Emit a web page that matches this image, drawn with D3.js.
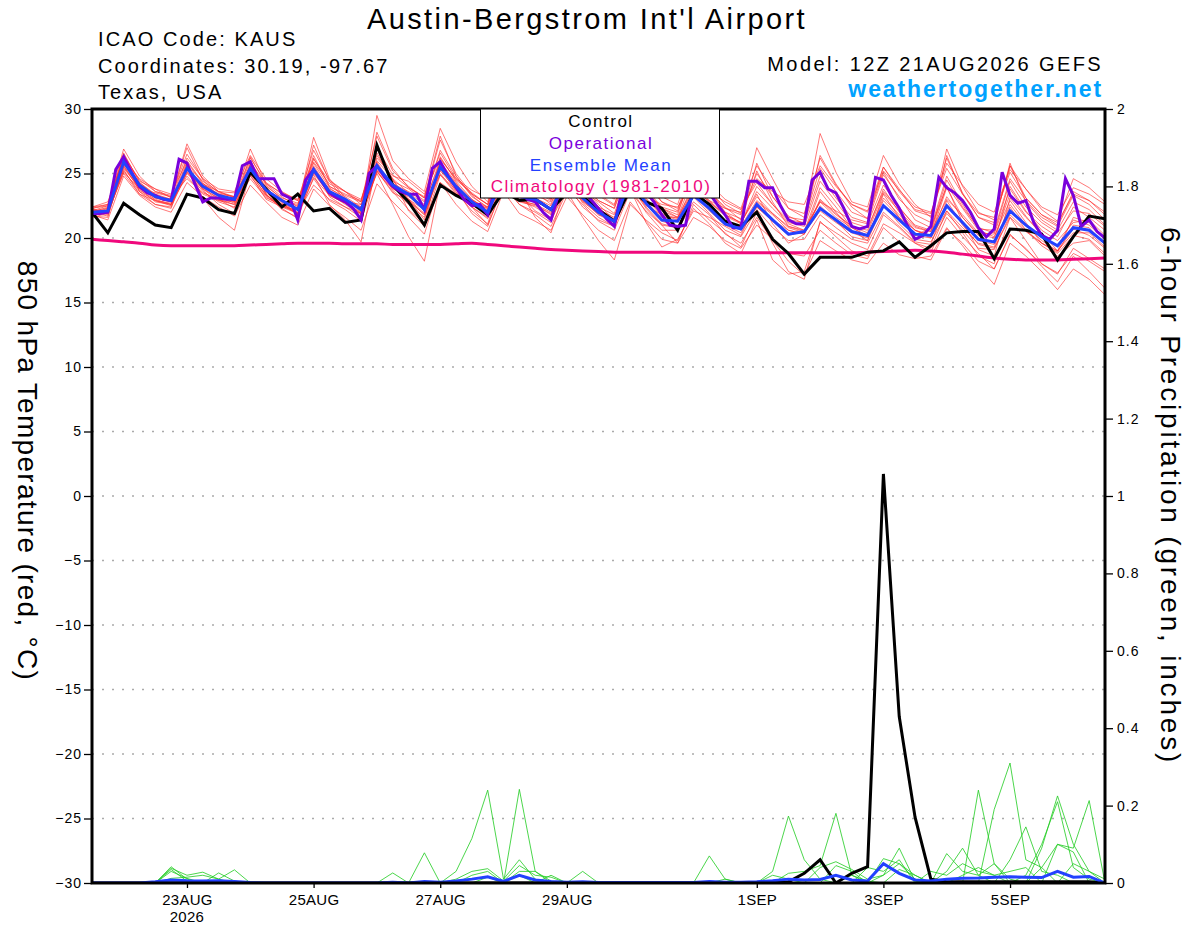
<!DOCTYPE html>
<html>
<head>
<meta charset="utf-8">
<script src="https://cdn.jsdelivr.net/npm/d3@7"></script>
<style>
body { margin: 0; background: #fff; }
svg { display: block; font-family: "Liberation Sans", Arial, Helvetica, sans-serif; }
</style>
</head>
<body>
<svg class="svg-canvas" width="1200" height="927"></svg>
<script>
// 850 hPa temperature (C), 6-hourly from 12Z 21AUG2026
var control = [22.0,20.4, 22.7,21.8,21.0,20.8, 23.4,23.1,22.2,21.9, 25.1,23.8,22.4,23.4, 22.1,22.3,21.2,21.4, 27.2,24.1,22.8,21.0, 24.1,23.3,22.7,21.8, 23.6,22.9,23.0,22.2, 23.5,23.2,22.2,21.3, 23.8,22.8,22.3,20.6, 23.5,22.6,21.3,20.9, 22.0,19.9,18.8,17.2, 18.5,18.5,18.5,18.9, 19.0,19.7,18.5,19.4, 20.4,20.5,20.5,18.4, 20.7,20.6,20.3,18.3, 20.1,21.7,21.5];
var ensMean = [22.0,22.1, 25.9,24.1,23.2,22.9, 25.4,24.0,23.3,23.0, 25.4,23.7,22.9,22.2, 25.3,23.6,23.0,22.2, 25.6,24.1,23.4,22.2, 25.5,24.0,22.8,22.0, 24.8,23.2,23.0,22.2, 24.6,23.1,22.0,21.3, 24.5,22.7,21.4,21.3, 23.3,22.3,21.1,20.7, 22.6,21.4,20.3,20.5, 22.3,21.4,20.5,20.2, 22.5,21.4,20.3,20.2, 22.5,21.2,19.9,19.7, 22.1,21.0,20.1,19.4, 20.8,20.6,19.6];
var climatology = [19.9,19.8, 19.7,19.6,19.45,19.4, 19.4,19.4,19.4,19.4, 19.45,19.5,19.55,19.6, 19.6,19.6,19.55,19.55, 19.55,19.5,19.5,19.5, 19.5,19.55,19.6,19.5, 19.4,19.3,19.2,19.1, 19.05,19.0,18.95,18.9, 18.9,18.9,18.9,18.85, 18.85,18.85,18.85,18.85, 18.85,18.85,18.85,18.85, 18.85,18.85,18.85,18.9, 18.95,19.0,19.05,19.0, 18.9,18.75,18.6,18.45, 18.35,18.3,18.3,18.3, 18.35,18.4,18.45];
// operational run is 3-hourly
var operational = [21.9,21.9,22.0,25.3,26.3,25.1,24.0,23.5, 23.3,23.0,22.9,26.1,25.8,24.2,22.8,23.1, 23.1,23.0,23.0,25.6,25.9,24.6,24.6,24.6, 23.4,23.1,21.4,24.5,25.3,24.4,23.5,23.1, 22.8,22.3,21.4,25.0,25.6,24.7,24.0,23.6, 23.4,23.4,22.2,25.4,25.9,24.8,23.9,23.0, 22.5,22.6,21.8,24.0,25.0,24.5,23.8,23.0, 22.8,22.0,21.4,23.5,24.8,24.5,23.8,23.0, 22.3,21.5,20.9,23.8,25.0,24.5,23.6,22.8, 21.8,21.0,20.9,21.0,24.0,24.5,23.5,22.6, 21.8,20.8,20.8,24.4,24.4,23.9,23.9,22.5, 21.4,21.1,21.1,24.5,25.1,23.8,23.5,22.3, 20.9,20.7,20.9,24.7,24.5,23.3,22.3,21.0, 19.9,20.2,20.9,24.7,23.9,23.5,22.9,22.0, 20.8,20.1,20.7,25.1,23.3,22.7,22.9,21.2, 20.2,19.9,20.6,24.6,23.3,20.9,21.4,20.5, 20.0];
var tempMembers = [
  [22.3,22.6, 26.9,24.8,23.6,23.3, 26.5,24.6,23.5,23.2, 26.2,24.3,23.4,22.9, 26.8,24.5,23.6,22.8, 27.9,25.2,24.0,23.1, 27.6,25.0,23.4,22.6, 26.5,24.2,23.6,22.9, 26.0,24.1,22.9,22.3, 26.2,23.8,22.4,22.0, 25.1,23.5,22.3,21.8, 25.0,23.2,21.6,21.4, 25.4,23.6,22.0,21.5, 25.5,23.8,22.1,21.7, 26.2,23.5,21.6,21.2, 25.6,23.1,21.8,21.0, 23.6,22.9,22.0],
  [21.8,21.4, 24.8,23.3,22.4,22.0, 24.3,23.2,22.4,21.7, 24.1,22.8,21.6,21.0, 23.8,22.5,21.6,20.6, 24.2,22.8,21.6,20.3, 24.3,22.6,21.3,20.5, 23.6,21.9,21.3,20.6, 23.2,21.8,20.6,19.8, 22.8,21.3,19.9,19.6, 21.6,20.9,19.8,19.2, 21.0,19.9,18.8,18.6, 20.6,19.6,18.7,18.4, 20.8,19.7,18.6,18.3, 20.7,19.6,18.2,17.6, 20.3,19.1,18.0,17.3, 18.8,18.2,17.4],
  [22.1,22.3, 26.5,24.4,23.8,23.1, 27.3,24.8,23.6,23.1, 26.9,24.2,23.2,22.4, 27.8,24.6,23.1,22.0, 29.5,26.0,24.6,23.6, 28.5,25.9,24.0,22.8, 27.2,24.9,24.2,23.0, 26.8,24.5,23.3,22.5, 27.0,24.6,22.8,22.1, 26.3,24.1,22.6,21.9, 27.0,24.6,22.3,21.6, 28.1,25.1,22.8,22.4, 26.4,24.2,22.6,21.6, 26.9,24.0,22.0,21.4, 25.6,23.8,22.2,21.3, 24.6,23.9,22.8],
  [22.0,21.9, 25.6,23.7,23.0,22.6, 25.0,23.8,22.9,22.6, 25.7,23.4,22.3,21.5, 25.5,23.2,22.4,21.6, 25.2,23.5,22.9,21.8, 25.0,23.5,22.4,21.5, 24.4,22.9,22.6,21.8, 24.9,22.7,21.6,20.9, 24.1,22.3,21.0,20.8, 23.2,21.9,20.6,20.1, 22.2,20.8,19.8,19.9, 21.8,20.8,19.9,19.6, 22.0,20.9,19.7,19.5, 22.9,21.0,19.5,19.2, 21.6,20.5,19.6,18.8, 20.2,19.9,18.8],
  [22.4,22.8, 26.2,23.6,22.6,22.3, 25.8,23.1,21.6,20.6, 25.1,23.9,22.8,21.9, 24.9,22.6,21.4,19.7, 26.0,24.6,22.1,20.9, 26.3,24.4,23.0,22.1, 25.6,23.8,21.6,20.4, 24.3,23.6,22.8,21.9, 25.2,23.1,21.7,20.6, 24.0,22.8,21.8,21.2, 23.4,21.1,19.6,20.3, 23.6,22.0,20.6,19.8, 23.4,21.6,20.2,20.8, 24.0,21.2,19.1,18.6, 23.1,21.6,20.4,19.0, 21.6,21.2,20.0],
  [21.7,21.6, 25.8,24.2,23.3,23.0, 25.2,24.2,23.6,23.5, 25.3,23.6,22.9,22.6, 26.4,24.0,23.4,22.9, 26.9,24.5,23.0,21.4, 25.9,24.3,22.4,21.0, 24.0,23.0,23.4,23.1, 25.8,23.9,22.4,21.2, 24.6,23.2,22.6,22.4, 24.6,23.3,22.0,21.1, 23.6,22.3,21.1,20.6, 22.8,22.1,21.4,21.1, 24.1,22.4,20.9,20.5, 23.0,21.8,20.4,20.3, 23.8,22.0,20.9,20.1, 22.4,21.6,20.6],
  [22.2,22.0, 25.1,23.8,23.5,23.2, 24.6,23.5,23.0,22.6, 24.6,23.1,22.6,22.0, 24.1,23.0,22.4,21.9, 25.0,22.6,20.1,18.2, 24.3,23.4,22.9,21.8, 25.1,23.4,22.1,21.4, 23.8,22.6,21.3,20.6, 23.6,22.1,21.0,19.6, 22.6,21.4,20.4,19.3, 22.0,19.6,17.4,16.8, 21.3,20.1,19.0,18.6, 21.1,20.4,19.6,18.9, 21.6,20.1,18.8,17.6, 20.2,19.2,17.8,16.6, 18.6,17.4,16.1],
  [21.9,22.2, 26.0,24.6,23.8,23.4, 26.0,24.3,23.0,22.3, 25.8,24.2,23.5,23.0, 25.9,24.2,23.6,23.0, 26.6,24.4,23.8,22.9, 26.8,24.8,23.3,22.3, 25.6,23.6,22.8,22.3, 25.1,23.6,22.1,21.0, 25.3,23.4,22.1,21.6, 23.9,22.8,21.7,21.1, 24.0,22.6,21.2,20.9, 24.4,22.8,21.2,20.8, 23.6,22.3,21.0,20.6, 24.5,22.4,20.8,20.4, 24.4,22.4,21.2,20.4, 22.1,21.9,20.9],
  [22.0,22.4, 25.4,23.9,23.1,22.8, 25.6,24.4,23.6,23.2, 25.1,23.3,22.6,22.3, 25.0,23.4,22.6,21.8, 25.4,24.2,23.6,22.8, 25.8,24.1,22.6,21.8, 24.6,23.5,23.3,22.8, 24.4,23.3,22.4,21.8, 24.2,22.8,21.6,21.6, 23.5,22.9,22.3,22.0, 24.6,23.6,22.8,22.6, 25.6,24.0,22.6,22.1, 25.5,23.6,22.2,21.9, 25.8,24.1,22.6,22.0, 25.3,23.8,22.4,21.8, 23.9,23.4,22.6],
  [22.3,21.8, 25.3,23.4,22.6,22.4, 25.1,23.9,23.4,23.2, 25.6,24.0,23.1,22.7, 25.2,23.3,22.7,21.9, 25.1,23.8,23.2,22.3, 25.4,23.6,22.1,21.1, 24.9,22.8,22.5,21.9, 24.2,22.4,21.4,20.9, 23.9,22.0,20.6,20.6, 22.8,21.8,20.3,19.6, 21.6,19.8,18.2,17.1, 19.8,19.0,18.3,18.0, 19.6,18.7,18.4,18.6, 20.8,19.4,17.8,16.4, 19.6,18.6,17.4,16.0, 17.6,16.8,15.6],
  [22.1,22.5, 26.3,24.1,22.9,22.5, 25.7,23.7,22.6,21.9, 25.2,23.6,22.9,22.5, 25.8,23.9,23.0,22.2, 26.2,24.8,24.4,23.4, 26.2,24.5,23.5,22.6, 25.0,23.9,23.7,23.0, 25.5,23.9,22.9,22.3, 25.4,23.6,22.3,21.6, 24.8,23.6,22.4,21.4, 25.2,22.8,20.9,20.5, 23.9,22.4,20.8,20.1, 23.1,21.8,20.6,20.2, 23.9,21.6,20.2,19.6, 24.0,22.1,20.6,19.8, 21.2,21.4,20.2],
  [21.6,21.9, 25.7,24.3,23.3,22.8, 25.3,24.1,23.4,23.0, 25.5,23.8,22.7,21.8, 25.3,23.8,23.2,22.4, 25.8,23.7,22.6,21.6, 25.3,24.0,22.8,22.3, 24.4,22.9,22.4,21.6, 24.1,22.8,21.9,21.5, 24.5,22.6,21.3,20.9, 23.2,22.4,21.3,20.6, 22.4,21.3,20.2,20.5, 22.8,21.6,20.8,20.2, 22.9,21.6,20.6,20.0, 22.6,21.3,19.8,19.5, 22.6,21.0,19.8,19.0, 20.4,20.4,19.3],
  [22.2,22.0, 26.4,24.5,23.6,23.2, 27.0,24.5,23.2,22.7, 26.3,24.1,23.0,22.3, 27.2,24.4,22.9,22.3, 28.2,25.4,23.9,23.2, 27.9,24.8,23.2,22.4, 26.8,24.3,23.6,22.6, 26.2,24.0,22.6,21.4, 25.9,23.7,22.3,21.8, 25.6,23.8,22.0,21.5, 25.8,23.2,21.7,21.1, 26.4,24.2,22.4,21.5, 25.1,23.0,21.8,21.2, 26.4,23.4,21.6,21.0, 25.8,22.8,21.4,20.6, 22.8,22.2,21.0],
  [21.9,22.3, 25.2,23.6,22.9,22.7, 24.8,23.4,22.9,22.8, 24.9,23.0,22.4,21.9, 25.1,23.5,22.8,22.6, 25.3,23.9,23.3,22.4, 24.9,23.7,22.9,22.4, 24.5,23.3,22.8,22.3, 24.6,23.0,21.8,21.4, 24.1,22.5,21.8,21.4, 23.8,22.2,21.0,20.9, 22.9,21.9,20.8,20.4, 22.1,21.2,20.4,20.0, 22.6,21.1,19.9,19.7, 21.9,20.6,19.2,19.1, 21.8,20.6,19.4,18.6, 19.6,19.8,18.6],
  [22.0,21.7, 25.5,23.9,23.1,22.8, 25.1,23.6,22.8,22.4, 25.3,23.5,22.6,21.9, 24.6,22.9,22.2,21.3, 25.2,23.6,22.2,21.1, 24.9,23.4,22.4,21.6, 24.0,22.6,21.8,20.9, 23.6,21.6,19.8,18.3, 22.6,21.4,20.4,19.8, 22.3,21.1,19.6,18.8, 21.4,18.3,17.2,17.4, 21.2,20.4,19.6,19.1, 21.8,20.8,19.6,19.2, 22.1,20.4,18.6,18.0, 21.6,19.8,18.0,17.2, 19.2,18.4,17.6],
  [22.3,22.5, 26.6,24.3,23.4,23.0, 26.2,24.6,23.8,23.6, 26.4,24.6,23.6,22.9, 26.1,24.4,23.6,22.6, 26.4,24.6,23.5,22.6, 26.1,24.6,23.7,23.1, 25.8,24.4,24.1,23.6, 26.0,24.6,23.4,22.6, 25.8,24.1,22.8,22.3, 24.6,23.6,22.8,22.2, 24.3,22.6,21.4,21.2, 24.8,23.1,21.6,21.2, 24.9,23.2,21.4,20.8, 24.8,22.6,20.7,20.6, 24.6,22.9,21.6,20.9, 23.3,22.6,21.4],
  [21.8,22.1, 25.9,23.8,22.8,22.6, 25.5,23.9,23.0,22.9, 25.6,23.4,22.2,21.6, 24.7,23.3,22.7,21.9, 25.5,23.9,23.0,21.9, 25.6,23.8,21.9,20.9, 24.2,22.6,22.0,21.2, 24.5,22.9,22.0,21.0, 23.8,21.2,19.3,19.9, 22.1,21.6,20.9,20.2, 22.8,21.8,20.6,20.3, 23.0,21.9,20.9,20.4, 23.5,22.1,20.8,20.5, 24.1,22.3,20.6,20.1, 22.9,21.2,19.6,18.9, 21.0,20.8,19.5],
  [22.1,22.0, 25.0,23.4,22.9,22.6, 25.4,24.1,23.3,22.9, 24.8,23.2,22.4,22.2, 25.6,23.7,22.9,22.4, 25.9,24.0,22.9,21.8, 25.8,24.2,23.0,22.2, 25.3,23.6,23.1,22.5, 24.9,23.3,22.2,21.6, 24.9,23.0,21.9,21.5, 24.2,22.9,21.8,21.2, 23.2,21.9,20.9,20.6, 22.9,21.8,20.9,20.6, 23.8,22.0,20.6,20.2, 23.2,21.6,20.3,20.0, 23.4,21.7,20.2,19.4, 21.4,21.0,19.9],
  [22.4,22.6, 26.1,24.2,23.3,22.9, 25.9,24.2,23.4,22.8, 26.0,23.8,22.8,22.3, 26.2,24.0,23.3,22.8, 27.0,24.9,23.9,23.1, 26.6,24.6,23.4,22.6, 27.6,25.1,24.4,23.6, 27.8,25.3,23.8,23.0, 27.3,24.8,23.2,22.6, 26.1,24.2,23.0,22.3, 25.6,23.8,22.3,21.9, 26.2,24.1,22.6,22.0, 25.2,23.7,22.4,22.0, 25.4,23.4,21.9,21.6, 25.1,23.1,21.8,21.2, 23.4,22.9,21.8],
  [21.8,22.2, 25.6,24.0,23.2,22.9, 25.3,23.8,23.1,23.1, 25.0,23.3,22.5,21.9, 25.4,23.5,22.7,22.0, 25.6,23.9,23.0,22.2, 25.2,23.8,22.7,21.8, 24.6,22.9,22.6,22.0, 24.3,22.9,21.8,21.2, 24.3,22.4,21.1,20.8, 23.4,22.1,21.0,20.4, 22.4,21.4,20.6,20.3, 22.5,21.3,20.1,19.8, 22.6,21.4,20.2,20.0, 22.1,20.8,19.6,19.3, 22.4,20.6,19.6,19.0, 20.7,20.2,19.2]
];

// 6-hour precipitation (inches)
var controlPrecip = [0,0,0,0,0, 0,0,0,0,0, 0,0,0,0,0, 0,0,0,0,0, 0,0,0,0,0, 0,0,0,0,0, 0,0,0,0,0, 0,0,0,0,0, 0,0,0,0,.003, .025,.06,0,.025,.042, 1.057,.43,.17,.01,.003, .003,.003,.003,.003,.003, .003,.003,.003,.003,0];
var meanPrecip = [0,0,0,0,.003, .008,.006,.005,.006,.004, .001,0,0,0,0, 0,0,0,0,.002, 0,.004,.002,.005,.01, .016,.004,.02,.008,.004, .002,.003,.001,.001,.001, .001,.001,.001,.001,.004, .002,.002,.003,.006,.01, .008,.009,.02,.008,.005, .05,.025,.008,.005,.01, .012,.013,.015,.016,.015, .014,.03,.015,.017,0];
var precipMembers = [
  [0,0,0,0,0, .042,.01,0,0,0, 0,0,0,0,0, 0,0,0,0,0, 0,0,0,0,0, 0,0,0,0,0, 0,0,0,0,0, 0,0,0,0,0, 0,0,0,0,0, 0,0,0,0,0, 0,0,0,0,.03, .09,.02,.05,0,0, 0,0,0,0,0],
  [0,0,0,0,0, .038,.02,.028,.01,0, 0,0,0,0,0, 0,0,0,0,0, 0,0,0,0,0, 0,0,0,0,0, 0,0,0,0,0, 0,0,0,0,0, 0,0,0,0,0, 0,0,0,0,0, 0,0,0,0,0, 0,.24,.05,.01,0, 0,0,0,0,0],
  [0,0,0,0,0, .03,.012,0,.026,.005, 0,0,0,0,0, 0,0,0,0,0, 0,0,0,0,0, 0,0,0,0,0, 0,0,0,0,0, 0,0,0,0,0, 0,0,0,0,0, 0,0,0,0,0, 0,0,0,0,0, 0,0,.19,.31,.06, .04,0,0,0,0],
  [0,0,0,0,0, .012,.015,.02,.01,.034, 0,0,0,0,0, 0,0,0,0,0, 0,0,0,0,0, 0,0,0,0,0, 0,0,0,0,0, 0,0,0,0,0, 0,0,0,0,0, 0,0,0,0,0, 0,0,0,0,0, 0,0,0,.06,.145, .03,.02,0,0,0],
  [0,0,0,0,0, .035,.005,0,0,0, 0,0,0,0,0, 0,0,0,0,0, 0,0,0,0,0, 0,0,0,0,0, 0,0,0,0,0, 0,0,0,0,0, 0,0,0,0,0, 0,0,0,0,0, 0,0,0,0,0, 0,0,0,0,0, .09,.225,.1,.03,0],
  [0,0,0,0,0, 0,0,0,0,0, 0,0,0,0,0, 0,0,0,0,.026, 0,0,0,0,0, 0,0,0,0,0, 0,0,0,0,0, 0,0,0,0,0, 0,0,0,0,0, 0,0,0,0,0, 0,0,0,0,0, 0,0,0,0,.02, .1,.21,.04,.01,0],
  [0,0,0,0,0, 0,0,0,0,0, 0,0,0,0,0, 0,0,0,0,0, 0,.078,0,0,0, 0,0,0,0,0, 0,0,0,0,0, 0,0,0,0,0, 0,0,0,0,0, 0,0,0,0,0, 0,0,0,0,0, 0,0,0,0,0, 0,.1,.09,.213,0],
  [0,0,0,0,0, 0,0,0,0,0, 0,0,0,0,0, 0,0,0,0,0, 0,0,0,.03,.115, .24,.01,.06,.01,0, 0,0,0,0,0, 0,0,0,0,0, 0,0,0,0,0, 0,0,0,0,0, 0,0,0,0,.076, .03,.02,0,0,0, 0,0,0,0,0],
  [0,0,0,0,0, 0,0,0,0,0, 0,0,0,0,0, 0,0,0,0,0, 0,0,0,0,0, 0,0,.242,.03,0, 0,0,0,0,0, 0,0,0,0,0, 0,0,0,0,0, 0,0,0,0,0, 0,0,0,.03,.02, .05,.03,.02,0,0, 0,0,0,0,0],
  [0,0,0,0,0, 0,0,0,0,0, 0,0,0,0,0, 0,0,0,0,0, 0,0,0,.01,.03, .037,.005,.045,.02,.015, 0,0,0,0,0, 0,0,0,0,0, 0,0,0,0,0, 0,0,0,0,0, 0,0,0,0,0, 0,0,0,0,0, 0,0,.05,.03,.01],
  [0,0,0,0,0, 0,0,0,0,0, 0,0,0,0,0, 0,0,0,0,0, 0,0,0,0,.02, .03,0,.03,.03,.005, 0,.03,0,0,0, 0,0,0,0,0, 0,0,0,0,0, 0,0,0,0,0, .02,.05,.02,0,0, 0,0,0,0,0, 0,0,0,0,0],
  [0,0,0,0,0, 0,0,0,0,0, 0,0,0,0,0, 0,0,0,0,0, 0,0,0,0,0, .015,0,.02,0,.02, 0,0,0,0,0, 0,0,0,0,0, 0,0,0,.02,.01, 0,0,0,0,0, 0,0,0,0,0, 0,0,0,0,0, 0,0,0,0,0],
  [0,0,0,0,0, 0,0,0,0,0, 0,0,0,0,0, 0,0,0,0,0, 0,0,0,0,0, 0,0,0,0,0, 0,0,0,0,0, 0,0,0,0,.07, .01,0,0,0,0, 0,0,0,0,0, 0,0,0,0,0, .02,.04,.02,.03,.04, 0,0,0,0,0],
  [0,0,0,0,0, 0,0,0,0,0, 0,0,0,0,0, 0,0,0,0,0, 0,0,0,0,0, 0,0,0,0,0, 0,0,0,0,0, 0,0,0,0,0, .01,0,0,0,0, 0,0,0,0,0, 0,0,0,0,0, 0,0,0,0,0, .04,.1,.08,0,0],
  [0,0,0,0,0, 0,0,0,0,0, 0,0,0,0,0, 0,0,0,0,0, 0,0,0,0,0, 0,0,0,0,0, 0,0,0,0,0, 0,0,0,0,0, 0,0,0,.03,.173, .06,.01,0,0,0, 0,0,0,0,0, 0,0,0,0,0, 0,0,0,0,0],
  [0,0,0,0,0, 0,0,0,0,0, 0,0,0,0,0, 0,0,0,0,0, 0,0,0,0,0, 0,0,0,0,0, 0,0,0,0,0, 0,0,0,0,0, 0,0,0,0,.025, .03,.045,.18,.02,0, 0,0,0,0,0, 0,0,0,0,0, 0,0,0,0,0],
  [0,0,0,0,0, 0,0,0,0,0, 0,0,0,0,0, 0,0,0,0,0, 0,0,0,0,0, 0,0,0,0,0, 0,0,0,0,0, 0,0,0,0,0, 0,0,0,0,0, 0,.04,.055,.035,.01, .02,.09,.005,0,0, 0,0,0,0,0, 0,0,0,0,0],
  [0,0,0,0,0, 0,0,0,0,0, 0,0,0,0,0, 0,0,0,0,0, 0,0,0,0,0, 0,0,0,0,0, 0,0,0,0,0, 0,0,0,0,0, 0,0,0,0,0, 0,0,.045,.03,0, .063,.05,.01,0,0, 0,0,0,0,0, 0,0,0,0,0],
  [0,0,0,0,0, 0,0,0,0,0, 0,0,0,0,0, 0,0,0,0,0, 0,0,0,0,0, 0,0,0,0,0, 0,0,0,0,0, 0,0,0,0,0, 0,0,0,0,0, 0,0,0,.02,.005, 0,.035,.02,0,0, 0,0,0,0,0, 0,0,0,0,0],
  [0,0,0,0,0, 0,0,0,0,0, 0,0,0,0,0, 0,0,0,0,0, 0,0,0,0,0, 0,0,0,0,0, 0,0,0,0,0, 0,0,0,0,0, 0,0,0,0,0, 0,0,0,0,.04, .03,.06,0,0,0, 0,0,0,0,0, 0,0,0,0,0]
];

var tempTicks = [-30, -25, -20, -15, -10, -5, 0, 5, 10, 15, 20, 25, 30];
var precipTicks = [0, 0.2, 0.4, 0.6, 0.8, 1, 1.2, 1.4, 1.6, 1.8, 2];
var dateTicks = [Date.UTC(2026, 7, 23), Date.UTC(2026, 7, 25), Date.UTC(2026, 7, 27), Date.UTC(2026, 7, 29), Date.UTC(2026, 8, 1), Date.UTC(2026, 8, 3), Date.UTC(2026, 8, 5)];
var dateLabels = ["23AUG", "25AUG", "27AUG", "29AUG", "1SEP", "3SEP", "5SEP"];

var svg = d3.select(".svg-canvas");
var plotLeft = 92, plotRight = 1105, plotTop = 109, plotBottom = 883;
var font = "Liberation Sans, Arial, Helvetica, sans-serif";

var sixHours = 6 * 3600 * 1000;
var startTime = Date.UTC(2026, 7, 21, 12);
var times = control.map(function(d, i) { return new Date(startTime + i * sixHours); });
var opTimes = operational.map(function(d, i) { return new Date(startTime + i * sixHours / 2); });

var x = d3.scaleUtc().domain([times[0], times[times.length - 1]]).range([plotLeft, plotRight]);
var yTemp = d3.scaleLinear().domain([-30, 30]).range([plotBottom, plotTop]);
var yPrcp = d3.scaleLinear().domain([0, 2]).range([plotBottom, plotTop]);

svg.append("clipPath").attr("id", "plot-clip")
  .append("rect")
  .attr("x", plotLeft).attr("y", plotTop)
  .attr("width", plotRight - plotLeft).attr("height", plotBottom - plotTop);

// dotted grid
svg.append("g").selectAll("line")
  .data(tempTicks.filter(function(d) { return d > -30 && d < 30; })).enter()
  .append("line")
  .attr("x1", plotLeft).attr("x2", plotRight)
  .attr("y1", function(d) { return yTemp(d); })
  .attr("y2", function(d) { return yTemp(d); })
  .attr("stroke", "#aaa")
  .attr("stroke-width", 1.5)
  .attr("stroke-dasharray", "2,8");

var plot = svg.append("g").attr("clip-path", "url(#plot-clip)");

var tempLine = d3.line()
  .x(function(d, i) { return x(times[i]); })
  .y(function(d) { return yTemp(d); });
var opLine = d3.line()
  .x(function(d, i) { return x(opTimes[i]); })
  .y(function(d) { return yTemp(d); });
var climLine = d3.line()
  .curve(d3.curveMonotoneX)
  .x(function(d, i) { return x(times[i]); })
  .y(function(d) { return yTemp(d); });
var precipLine = d3.line()
  .x(function(d, i) { return x(times[i]); })
  .y(function(d) { return yPrcp(d); });

plot.selectAll("path.member-t")
  .data(tempMembers).enter()
  .append("path")
  .attr("class", "member-t")
  .attr("d", tempLine)
  .attr("fill", "none")
  .attr("stroke", "#ff2a2a")
  .attr("stroke-opacity", 0.7)
  .attr("stroke-width", 0.9);

plot.selectAll("path.member-p")
  .data(precipMembers).enter()
  .append("path")
  .attr("class", "member-p")
  .attr("d", precipLine)
  .attr("fill", "none")
  .attr("stroke", "#22cc22")
  .attr("stroke-opacity", 0.9)
  .attr("stroke-width", 0.9);

plot.append("path").attr("d", climLine(climatology))
  .attr("fill", "none").attr("stroke", "#f0087c").attr("stroke-width", 3);

plot.append("path").attr("d", tempLine(control))
  .attr("fill", "none").attr("stroke", "#000").attr("stroke-width", 3);
plot.append("path").attr("d", precipLine(controlPrecip))
  .attr("fill", "none").attr("stroke", "#000").attr("stroke-width", 3);

plot.append("path").attr("d", opLine(operational))
  .attr("fill", "none").attr("stroke", "#7a00dc").attr("stroke-width", 3);

plot.append("path").attr("d", tempLine(ensMean))
  .attr("fill", "none").attr("stroke", "#2341ff").attr("stroke-width", 3);
plot.append("path").attr("d", precipLine(meanPrecip))
  .attr("fill", "none").attr("stroke", "#2341ff").attr("stroke-width", 3);

// axes
var leftAxis = svg.append("g")
  .attr("transform", "translate(" + plotLeft + ",0)")
  .call(d3.axisLeft(yTemp).tickValues(tempTicks).tickSize(8).tickPadding(2));
var rightAxis = svg.append("g")
  .attr("transform", "translate(" + plotRight + ",0)")
  .call(d3.axisRight(yPrcp).tickValues(precipTicks).tickSize(8).tickPadding(4)
    .tickFormat(function(d) { return String(+d.toFixed(1)); }));
var bottomAxis = svg.append("g")
  .attr("transform", "translate(0," + plotBottom + ")")
  .call(d3.axisBottom(x).tickValues(dateTicks.map(function(d) { return new Date(d); }))
    .tickSize(5).tickPadding(6)
    .tickFormat(function(d, i) { return dateLabels[i]; }));

[leftAxis, rightAxis, bottomAxis].forEach(function(g) {
  g.select(".domain").remove();
  g.attr("font-family", font).attr("font-size", 14);
  g.selectAll(".tick line").attr("stroke-width", 1.3);
  g.selectAll("text").attr("fill", "#000");
});
leftAxis.selectAll("text").style("letter-spacing", "1px");
rightAxis.selectAll("text").style("letter-spacing", "1px");
bottomAxis.selectAll("text").attr("font-size", 15).style("letter-spacing", "0.3px");

svg.append("text")
  .attr("x", x(new Date(dateTicks[0]))).attr("y", 922)
  .attr("text-anchor", "middle")
  .attr("font-family", font).attr("font-size", 15)
  .style("letter-spacing", "0.3px")
  .text("2026");

// frame
svg.append("rect")
  .attr("x", plotLeft).attr("y", plotTop)
  .attr("width", plotRight - plotLeft).attr("height", plotBottom - plotTop)
  .attr("fill", "none").attr("stroke", "#000").attr("stroke-width", 3);

// legend
var legendItems = ["Control", "Operational", "Ensemble Mean", "Climatology (1981-2010)"];
var legendColors = ["#000", "#7a00dc", "#2341ff", "#f0087c"];
var legend = svg.append("g");
legend.append("rect")
  .attr("x", 480.5).attr("y", plotTop)
  .attr("width", 239).attr("height", 89)
  .attr("fill", "#fff").attr("stroke", "#000").attr("stroke-width", 1);
legend.selectAll("text")
  .data(legendItems).enter()
  .append("text")
  .attr("x", 601)
  .attr("y", function(d, i) { return 127 + i * 21.8; })
  .attr("text-anchor", "middle")
  .attr("font-family", font).attr("font-size", 17)
  .style("letter-spacing", "1.5px")
  .attr("fill", function(d, i) { return legendColors[i]; })
  .text(function(d) { return d; });

// titles
svg.append("text")
  .attr("x", 587).attr("y", 29)
  .attr("text-anchor", "middle")
  .attr("font-family", font).attr("font-size", 29)
  .style("letter-spacing", "2.4px")
  .text("Austin-Bergstrom Int'l Airport");

var infoLines = ["ICAO Code: KAUS", "Coordinates: 30.19, -97.67", "Texas, USA"];
svg.selectAll("text.info")
  .data(infoLines).enter()
  .append("text")
  .attr("class", "info")
  .attr("x", 98)
  .attr("y", function(d, i) { return [46, 73, 99][i]; })
  .attr("font-family", font).attr("font-size", 20)
  .style("letter-spacing", "2.1px")
  .text(function(d) { return d; });

svg.append("text")
  .attr("x", 1103).attr("y", 71)
  .attr("text-anchor", "end")
  .attr("font-family", font).attr("font-size", 20)
  .style("letter-spacing", "2.4px")
  .text("Model: 12Z 21AUG2026 GEFS");

svg.append("text")
  .attr("x", 1103).attr("y", 97)
  .attr("text-anchor", "end")
  .attr("font-family", font).attr("font-size", 23).attr("font-weight", "bold")
  .style("letter-spacing", "1.9px")
  .attr("fill", "#00a2ff")
  .text("weathertogether.net");

svg.append("text")
  .attr("transform", "translate(28,471) rotate(90)")
  .attr("text-anchor", "middle")
  .attr("dy", "0.35em")
  .attr("font-family", font).attr("font-size", 28)
  .style("letter-spacing", "1.3px")
  .text("850 hPa Temperature (red, \u00B0C)");

svg.append("text")
  .attr("transform", "translate(1171,496) rotate(90)")
  .attr("text-anchor", "middle")
  .attr("dy", "0.35em")
  .attr("font-family", font).attr("font-size", 28)
  .style("letter-spacing", "2.8px")
  .text("6-hour Precipitation (green, inches)");
</script>
</body>
</html>
